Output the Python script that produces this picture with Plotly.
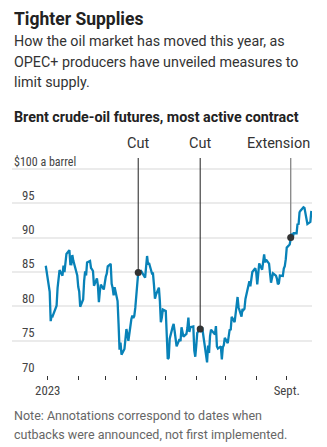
import plotly.graph_objects as go

# ---------------- data ----------------
dates = [
    "2022-12-30",
    "2023-01-03", "2023-01-04", "2023-01-05", "2023-01-06", "2023-01-09", "2023-01-10", "2023-01-11",
    "2023-01-12", "2023-01-13", "2023-01-16", "2023-01-17", "2023-01-18", "2023-01-19", "2023-01-20",
    "2023-01-23", "2023-01-24", "2023-01-25", "2023-01-26", "2023-01-27", "2023-01-30", "2023-01-31",
    "2023-02-01", "2023-02-02", "2023-02-03", "2023-02-06", "2023-02-07", "2023-02-08", "2023-02-09",
    "2023-02-10", "2023-02-13", "2023-02-14", "2023-02-15", "2023-02-16", "2023-02-17", "2023-02-20",
    "2023-02-21", "2023-02-22", "2023-02-23", "2023-02-24", "2023-02-27", "2023-02-28",
    "2023-03-01", "2023-03-02", "2023-03-03", "2023-03-06", "2023-03-07", "2023-03-08", "2023-03-09",
    "2023-03-10", "2023-03-13", "2023-03-14", "2023-03-15", "2023-03-16", "2023-03-17", "2023-03-20",
    "2023-03-21", "2023-03-22", "2023-03-23", "2023-03-24", "2023-03-27", "2023-03-28", "2023-03-29",
    "2023-03-30", "2023-03-31",
    "2023-04-03", "2023-04-04", "2023-04-05", "2023-04-06", "2023-04-10", "2023-04-11", "2023-04-12",
    "2023-04-13", "2023-04-14", "2023-04-17", "2023-04-18", "2023-04-19", "2023-04-20", "2023-04-21",
    "2023-04-24", "2023-04-25", "2023-04-26", "2023-04-27", "2023-04-28",
    "2023-05-01", "2023-05-02", "2023-05-03", "2023-05-04", "2023-05-05", "2023-05-08", "2023-05-09",
    "2023-05-10", "2023-05-11", "2023-05-12", "2023-05-15", "2023-05-16", "2023-05-17", "2023-05-18",
    "2023-05-19", "2023-05-22", "2023-05-23", "2023-05-24", "2023-05-25", "2023-05-26", "2023-05-29",
    "2023-05-30", "2023-05-31",
    "2023-06-01", "2023-06-02", "2023-06-05", "2023-06-06", "2023-06-07", "2023-06-08", "2023-06-09",
    "2023-06-12", "2023-06-13", "2023-06-14", "2023-06-15", "2023-06-16", "2023-06-19", "2023-06-20",
    "2023-06-21", "2023-06-22", "2023-06-23", "2023-06-26", "2023-06-27", "2023-06-28", "2023-06-29",
    "2023-06-30",
    "2023-07-03", "2023-07-04", "2023-07-05", "2023-07-06", "2023-07-07", "2023-07-10", "2023-07-11",
    "2023-07-12", "2023-07-13", "2023-07-14", "2023-07-17", "2023-07-18", "2023-07-19", "2023-07-20",
    "2023-07-21", "2023-07-24", "2023-07-25", "2023-07-26", "2023-07-27", "2023-07-28", "2023-07-31",
    "2023-08-01", "2023-08-02", "2023-08-03", "2023-08-04", "2023-08-07", "2023-08-08", "2023-08-09",
    "2023-08-10", "2023-08-11", "2023-08-14", "2023-08-15", "2023-08-16", "2023-08-17", "2023-08-18",
    "2023-08-21", "2023-08-22", "2023-08-23", "2023-08-24", "2023-08-25", "2023-08-28", "2023-08-29",
    "2023-08-30", "2023-08-31",
    "2023-09-01", "2023-09-04", "2023-09-05", "2023-09-06", "2023-09-07", "2023-09-08", "2023-09-11",
    "2023-09-12", "2023-09-13", "2023-09-14", "2023-09-15", "2023-09-18", "2023-09-19", "2023-09-20",
    "2023-09-21", "2023-09-22", "2023-09-25", "2023-09-26",
]
prices = [
    85.91,
    82.10, 77.84, 78.69, 78.57, 79.65, 80.10, 82.67,
    84.03, 85.28, 84.46, 85.92, 84.98, 86.16, 87.63,
    88.19, 86.13, 86.12, 87.47, 86.66, 84.90, 84.49,
    82.84, 82.17, 79.94, 80.99, 83.69, 85.09, 84.50,
    86.39, 86.61, 85.58, 85.38, 85.14, 83.00, 84.07,
    83.05, 80.60, 82.21, 83.16, 82.45, 83.89,
    84.31, 84.75, 85.83, 86.18, 83.29, 82.66, 81.59,
    82.78, 80.77, 77.45, 73.69, 74.70, 72.97, 73.79,
    75.32, 76.69, 75.91, 74.99, 78.12, 78.65, 78.28,
    78.60, 79.77,
    84.93, 84.94, 84.99, 85.12, 84.18, 85.61, 87.33,
    86.09, 86.31, 84.76, 84.77, 83.12, 81.10, 81.66,
    82.73, 80.77, 77.69, 78.37, 79.54,
    79.31, 75.32, 72.33, 72.50, 75.30, 77.01, 77.44,
    76.41, 74.98, 74.17, 75.23, 74.91, 76.96, 75.86,
    75.58, 75.99, 76.84, 78.36, 76.26, 76.95, 77.07,
    73.54, 72.66,
    74.28, 76.13, 76.71, 76.29, 76.95, 75.96, 74.79,
    71.84, 74.29, 73.20, 75.67, 76.61, 76.09, 75.90,
    77.12, 74.14, 73.85, 74.18, 72.26, 74.03, 74.34,
    75.41,
    74.65, 76.25, 76.65, 76.52, 78.47, 77.69, 79.40,
    80.11, 81.36, 79.87, 78.50, 79.63, 79.46, 79.64,
    81.07, 82.74, 83.64, 82.92, 84.24, 84.99, 85.56,
    84.91, 83.20, 85.14, 86.24, 85.34, 86.17, 87.55,
    86.40, 86.81, 86.21, 84.89, 83.45, 84.12, 84.80,
    84.46, 84.03, 83.21, 83.36, 84.48, 84.42, 85.49,
    85.86, 86.86,
    88.55, 89.00, 90.04, 90.60, 89.92, 90.65, 90.64,
    92.06, 91.88, 93.70, 93.93, 94.43, 94.34, 93.53,
    92.60, 92.00, 92.30, 93.90,
]

event_dates = ["2023-04-03", "2023-06-05", "2023-09-05"]
event_labels = ["Cut", "Cut", "Extension"]
event_line_colors = ["#333333", "#333333", "#8c8c8c"]

y_ticks = [70, 75, 80, 85, 90, 95]
y_top_label = "$100 a barrel"
x_tickvals = ["2023-01-01", "2023-02-01", "2023-03-01", "2023-04-01", "2023-05-01",
              "2023-06-01", "2023-07-01", "2023-08-01", "2023-09-01"]
x_ticktext = ["2023", "", "", "", "", "", "", "", "Sept."]

title = "Tighter Supplies"
subtitle_lines = ["How the oil market has moved this year, as",
                  "OPEC+ producers have unveiled measures to",
                  "limit supply."]
chart_title = "Brent crude-oil futures, most active contract"
note_lines = ["Note: Annotations correspond to dates when",
              "cutbacks were announced, not first implemented.",
              "Source: FactSet"]

# ---------------- layout geometry ----------------
W, H = 327, 447
ML, MR, MT, MB = 12, 15, 158, 72
PLOT_H = H - MT - MB
Y_MIN, Y_MAX = 70, 101.6

def py(pix):
    """pixel row (from top of page) -> paper y"""
    return (H - MB - pix) / PLOT_H

def px(pix):
    return (pix - ML) / (W - ML - MR)

FONT = "Roboto, Lato, sans-serif"
NARROW = "Liberation Sans Narrow, Roboto Condensed, Roboto, sans-serif"
BLUE = "#0882b8"

fig = go.Figure()

# event vertical lines
for d, lab, c in zip(event_dates, event_labels, event_line_colors):
    v = prices[dates.index(d)]
    fig.add_trace(go.Scatter(x=[d, d], y=[v, Y_MAX], mode="lines",
                             line=dict(color=c, width=1.4 if c != "#333333" else 1.1),
                             hoverinfo="skip", showlegend=False))

fig.add_trace(go.Scatter(x=dates, y=prices, mode="lines",
                         line=dict(color=BLUE, width=2.3), showlegend=False))

ev_vals = [prices[dates.index(d)] for d in event_dates]
fig.add_trace(go.Scatter(x=event_dates, y=ev_vals, mode="markers",
                         marker=dict(color="#333333", size=7), showlegend=False))

ann = []
ann.append(dict(text="<b>" + title + "</b>", y=py(19), font=dict(size=17.5, color="#222222", family=FONT)))
for i, line in enumerate(subtitle_lines):
    ann.append(dict(text=line, y=py(41 + 20.5 * i), font=dict(size=14.3, color="#333333", family=FONT)))
ann.append(dict(text="<b>" + chart_title + "</b>", y=py(117),
                font=dict(size=14.3, color="#222222", family=FONT)))
for i, line in enumerate(note_lines):
    ann.append(dict(text=line, y=py(415 + 19 * i), font=dict(size=12.5, color="#666666", family=FONT)))

annotations = []
for a in ann:
    annotations.append(dict(x=0, xref="paper", yref="paper", xanchor="left", yanchor="middle",
                            showarrow=False, **a))

# event labels
for d, lab in zip(event_dates, event_labels):
    if lab == "Extension":
        annotations.append(dict(text=lab, x=1.0, xref="paper", xanchor="right", y=py(143), yref="paper",
                                yanchor="middle", showarrow=False,
                                font=dict(size=14.5, color="#333333", family=FONT)))
    else:
        annotations.append(dict(text=lab, x=d, xref="x", xanchor="center", y=py(143), yref="paper",
                                yanchor="middle", showarrow=False,
                                font=dict(size=14.5, color="#333333", family=FONT)))

# y tick labels
for t in y_ticks:
    annotations.append(dict(text=str(t), x=px(36.5), xref="paper", xanchor="right", y=t, yref="y",
                            yanchor="middle", yshift=8, showarrow=False,
                            font=dict(size=12.8, color="#444444", family=NARROW)))
annotations.append(dict(text=y_top_label, x=0, xref="paper", xanchor="left", y=100, yref="y",
                        yanchor="middle", yshift=7, showarrow=False,
                        font=dict(size=12, color="#444444", family=NARROW)))

fig.update_layout(
    width=W, height=H,
    margin=dict(l=ML, r=MR, t=MT, b=MB),
    paper_bgcolor="white", plot_bgcolor="white",
    showlegend=False,
    annotations=annotations,
    xaxis=dict(type="date", range=["2022-11-25 16:00", "2023-09-26 16:00"],
               tickvals=x_tickvals, ticktext=x_ticktext,
               ticks="outside", ticklen=4, tickwidth=1, tickcolor="#333333",
               showgrid=False, zeroline=False, showline=False,
               tickfont=dict(size=12.8, color="#444444", family=NARROW), fixedrange=True),
    yaxis=dict(range=[Y_MIN, Y_MAX], tickvals=y_ticks + [100], showticklabels=False,
               showgrid=True, gridcolor="#ebebeb", gridwidth=1.5,
               zeroline=False, showline=False, ticks="", fixedrange=True),
)

fig.write_html("out.html", config={"displayModeBar": False})
